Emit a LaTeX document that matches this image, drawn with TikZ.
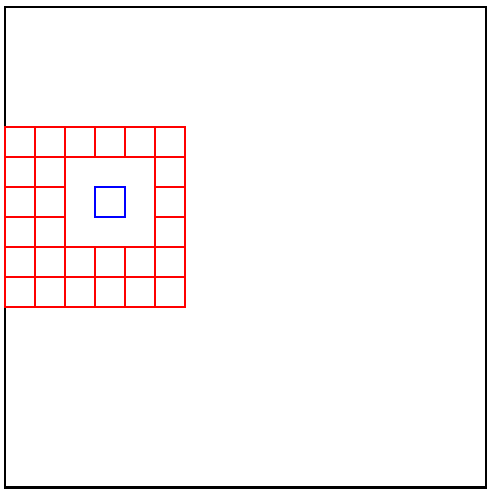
\documentclass[tikz,border=0pt]{standalone}
\usepackage{xcolor}
\usepackage{tikz}
\tikzset{
  frame/.style    = {black,line width=2pt},
  cellbox/.style  = {red,line width=2pt},
  target/.style   = {blue,line width=2pt}
}
\newcommand{\cell}[2]{\draw[cellbox] (#1,#2) rectangle ++(1,1);}

\begin{document}
\begin{tikzpicture}[x=1cm,y=1cm]
  \useasboundingbox (-0.17,-0.05) rectangle (16.03,16.22);
  \draw[frame] (0,0) rectangle (16,16);
  % ring of cells round the hole
  \foreach \x in {0,...,5} \foreach \y in {6,7,11} {\cell{\x}{\y}}
  \foreach \x in {0,1,5} \foreach \y in {8,9,10} {\cell{\x}{\y}}
  \draw[target] (3,9) rectangle (4,10);
\end{tikzpicture}
\end{document}
